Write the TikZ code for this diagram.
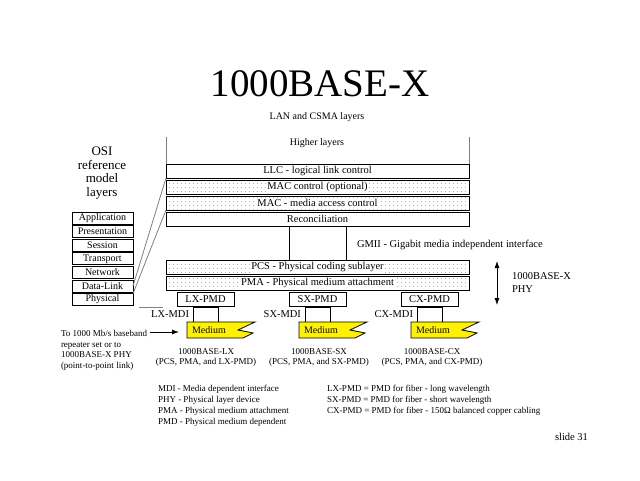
\documentclass[tikz,border=0pt]{standalone}
\usepackage{fontspec}
\setmainfont{Liberation Serif}
\usetikzlibrary{patterns,arrows.meta}
\pgfdeclarepatternformonly{sparsedots}{\pgfqpoint{0pt}{0pt}}{\pgfqpoint{3.5pt}{3.5pt}}{\pgfqpoint{3.5pt}{3.5pt}}{%
  \pgfpathrectangle{\pgfqpoint{1.2pt}{1.2pt}}{\pgfqpoint{0.9pt}{0.9pt}}\pgfusepath{fill}}
\newcommand\whitebg[1]{{\setlength{\fboxsep}{1pt}\colorbox{white}{#1}}}
\tikzset{
  medium/.pic={
    \path[medfill] (0,0) -- (68,0) -- (51,8) -- (66,11) -- (56,16) -- (0,16) -- cycle;
    \node[f10,anchor=west] (-t) at (5,8.5) {Medium};
    \coordinate (-w) at (0,10);
  }
}
\begin{document}
\begin{tikzpicture}[x=1pt,y=-1pt,
  every node/.style={inner sep=0pt,outer sep=0pt},
  f9/.style={font=\fontsize{9}{10.8}\selectfont},
  f10/.style={font=\fontsize{10}{12}\selectfont},
  f105/.style={font=\fontsize{10.5}{12.5}\selectfont},
  layerbox/.style={draw,line width=1pt,minimum width=303pt,minimum height=14pt,f105},
  dotbox/.style={layerbox,pattern=sparsedots,pattern color=gray!60},
  osibox/.style={draw,line width=1pt,minimum width=61pt,minimum height=12pt,f10},
  pmdbox/.style={draw,line width=1pt,minimum width=57pt,minimum height=14pt,f105},
  mdibox/.style={draw,line width=1pt,minimum width=25pt,minimum height=15pt},
  grayline/.style={draw=gray,line width=0.8pt},
  medfill/.style={draw,line width=0.8pt,fill=yellow},
  arr/.style={-{Latex[length=7pt,width=5pt]},line width=0.8pt},
  darr/.style={{Latex[length=7pt,width=5pt]}-{Latex[length=7pt,width=5pt]},line width=0.8pt}
]
\useasboundingbox[fill=white] (0,0) rectangle (640,480);

% titles
\node[font=\fontsize{39}{44}\selectfont] (title) at (320,84) {1000BASE-X};
\node[f10] (lan) at (317,117) {LAN and CSMA layers};
\node[f10] (higher) at (317,143) {Higher layers};

% OSI stack
\node[font=\fontsize{13}{13.6}\selectfont,align=center,anchor=north] (osi) at (102,147) {OSI\\reference\\model\\layers};
\node[osibox] (app) at (102.5,218) {Application};
\node[osibox] (pres) at (102.5,231.6) {Presentation};
\node[osibox] (sess) at (102.5,245.2) {Session};
\node[osibox] (trans) at (102.5,258.8) {Transport};
\node[osibox] (net) at (102.5,272.4) {Network};
\node[osibox] (dl) at (102.5,286) {Data-Link};
\node[osibox] (phys) at (102.5,299.6) {Physical};

% 1000BASE-X layers
\node[layerbox] (llc) at (317.5,171) {LLC - logical link control};
\node[dotbox] (macc) at (317.5,187) {\whitebg{MAC control (optional)}};
\node[dotbox] (mac) at (317.5,203) {\whitebg{MAC - media access control}};
\node[layerbox] (rec) at (317.5,219) {Reconciliation};
\node[draw,line width=1pt,minimum width=57pt,minimum height=34pt] (gmii) at (317.5,243) {};
\node[f105,anchor=west] (gmiit) at (357,245) {GMII - Gigabit media independent interface};
\node[dotbox] (pcs) at (317.5,267) {\whitebg{PCS - Physical coding sublayer}};
\node[dotbox] (pma) at (317.5,283) {\whitebg{PMA - Physical medium attachment}};

% PMDs
\node[pmdbox] (lxpmd) at (205.5,299) {LX-PMD};
\node[pmdbox] (sxpmd) at (317.5,299) {SX-PMD};
\node[pmdbox] (cxpmd) at (429.5,299) {CX-PMD};
\node[mdibox] (lxmdi) at (205.5,314.5) {};
\node[mdibox] (sxmdi) at (317.5,314.5) {};
\node[mdibox] (cxmdi) at (429.5,314.5) {};
\node[f105,anchor=east] (lxmdit) at (189,314.5) {LX-MDI};
\node[f105,anchor=east] (sxmdit) at (301,314.5) {SX-MDI};
\node[f105,anchor=east] (cxmdit) at (413,314.5) {CX-MDI};

% media
\pic (mLX) at (187,322) {medium};
\pic (mSX) at (299,322) {medium};
\pic (mCX) at (411,322) {medium};

\node[f9,align=center] (capLX) at (206,357.5) {1000BASE-LX\\(PCS, PMA, and LX-PMD)};
\node[f9,align=center] (capSX) at (319,357.5) {1000BASE-SX\\(PCS, PMA, and SX-PMD)};
\node[f9,align=center] (capCX) at (432,357.5) {1000BASE-CX\\(PCS, PMA, and CX-PMD)};

% link text and arrow
\node[f9,align=left,anchor=north west] (tolink) at (61,330) {To 1000 Mb/s baseband\\repeater set or to\\1000BASE-X PHY\\(point-to-point link)};
\coordinate (arrS) at (150,332);
\draw[arr] (arrS) -- ([xshift=-8pt]mLX-w);

% PHY arrow
\coordinate (phyT) at (497,261);
\coordinate (phyB) at (497,305);
\draw[darr] (phyT) -- (phyB);
\node[f105,anchor=west] (phy1) at (512,276) {1000BASE-X};
\node[f105,anchor=west] (phy2) at (512,289.5) {PHY};

% gray lines
\coordinate (hlL) at (166,137);
\coordinate (hlR) at (469,137);
\draw[grayline] (hlL) -- (llc.north west);
\draw[grayline] (hlR) -- (llc.north east);
\draw[grayline] (dl.east) -- (llc.south west);
\draw[grayline] (phys.north east) -- (mac.south west);
\coordinate (g1) at (139,307);
\coordinate (g2) at (163,307);
\draw[grayline] (g1) -- (g2);

% legend
\node[f9,anchor=base west] (lg1) at (158,391) {MDI - Media dependent interface};
\node[f9,anchor=base west] (lg2) at (158,402) {PHY - Physical layer device};
\node[f9,anchor=base west] (lg3) at (158,413) {PMA - Physical medium attachment};
\node[f9,anchor=base west] (lg4) at (158,424) {PMD - Physical medium dependent};
\node[f9,anchor=base west] (lg5) at (327,391) {LX-PMD = PMD for fiber - long wavelength};
\node[f9,anchor=base west] (lg6) at (327,402) {SX-PMD = PMD for fiber - short wavelength};
\node[f9,anchor=base west] (lg7) at (327,413) {CX-PMD = PMD for fiber - 150Ω balanced copper cabling};

\node[f105,anchor=base west] (slide) at (555,440) {slide 31};
\end{tikzpicture}
\end{document}
